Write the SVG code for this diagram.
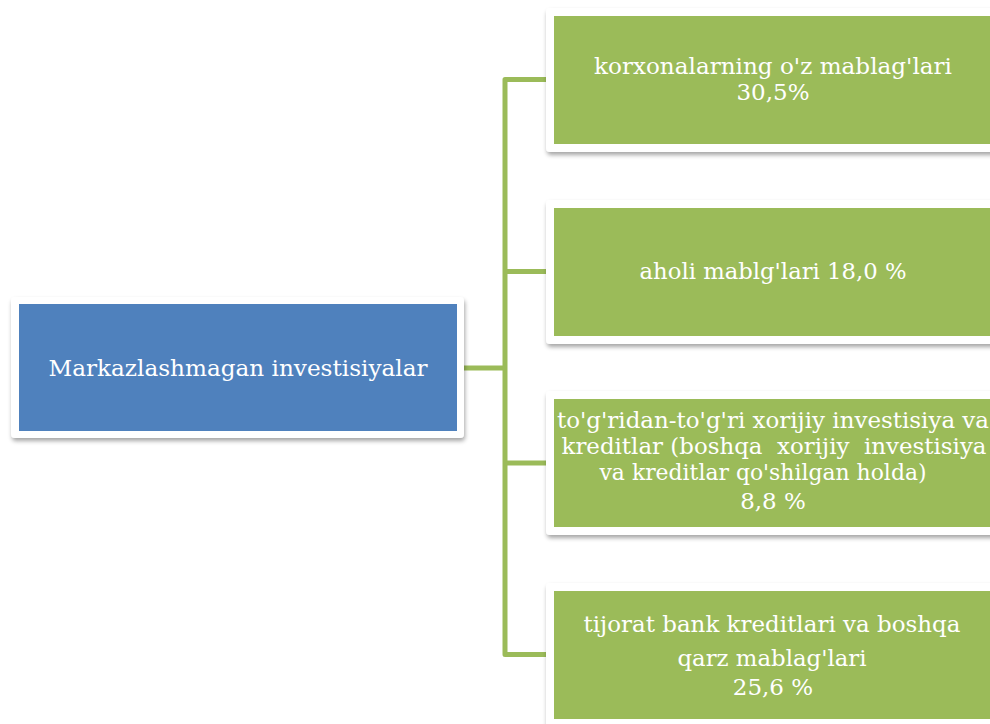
<svg xmlns="http://www.w3.org/2000/svg" width="990" height="724" viewBox="0 0 990 724">
<style>
.frame{fill:#ffffff;filter:url(#sh)}
.blue{fill:#4F81BD}
.green{fill:#9BBB59}
.conn{fill:none;stroke:#9BBB59;stroke-width:5;stroke-linejoin:round}
text{font-family:"DejaVu Serif","Liberation Serif",serif;font-size:23px;fill:#ffffff;text-anchor:middle}
</style>
<defs>
<filter id="sh" x="-10%" y="-10%" width="120%" height="130%">
<feDropShadow dx="1" dy="3" stdDeviation="2" flood-color="#000000" flood-opacity="0.35"/>
</filter>
</defs>
<rect width="990" height="724" fill="#ffffff"/>
<g id="connectors">
<path class="conn" d="M464,368 H505"/>
<path class="conn" d="M548,79.5 H505 V654.5 H548"/>
<path class="conn" d="M505,271.5 H548"/>
<path class="conn" d="M505,463 H548"/>
</g>
<g id="node-root">
<rect class="frame" x="11" y="297" width="453" height="141" rx="4"/>
<rect class="blue" x="19" y="304" width="438" height="127"/>
<text x="238" y="376" textLength="379" lengthAdjust="spacingAndGlyphs">Markazlashmagan investisiyalar</text>
</g>
<g id="node-1">
<rect class="frame" x="546" y="8" width="460" height="144" rx="4"/>
<rect class="green" x="554" y="16" width="440" height="128"/>
<text x="773" y="74" textLength="358" lengthAdjust="spacingAndGlyphs">korxonalarning o'z mablag'lari</text>
<text x="773" y="100">30,5%</text>
</g>
<g id="node-2">
<rect class="frame" x="546" y="200" width="460" height="144" rx="4"/>
<rect class="green" x="554" y="208" width="440" height="128"/>
<text x="773" y="279" textLength="267" lengthAdjust="spacingAndGlyphs">aholi mablg'lari 18,0 %</text>
</g>
<g id="node-3">
<rect class="frame" x="546" y="391" width="460" height="144" rx="4"/>
<rect class="green" x="554" y="399" width="440" height="128"/>
<text x="773" y="428" textLength="432" lengthAdjust="spacingAndGlyphs">to'g'ridan-to'g'ri xorijiy investisiya va</text>
<text x="774" y="454" textLength="425" lengthAdjust="spacingAndGlyphs" xml:space="preserve">kreditlar (boshqa  xorijiy  investisiya</text>
<text x="763" y="480" textLength="327" lengthAdjust="spacingAndGlyphs">va kreditlar qo'shilgan holda)</text>
<text x="773" y="509">8,8 %</text>
</g>
<g id="node-4">
<rect class="frame" x="546" y="583" width="460" height="144" rx="4"/>
<rect class="green" x="554" y="591" width="440" height="128"/>
<text x="772" y="632" textLength="377" lengthAdjust="spacingAndGlyphs">tijorat bank kreditlari va boshqa</text>
<text x="772" y="666" textLength="189" lengthAdjust="spacingAndGlyphs">qarz mablag'lari</text>
<text x="773" y="695">25,6 %</text>
</g>
</svg>
